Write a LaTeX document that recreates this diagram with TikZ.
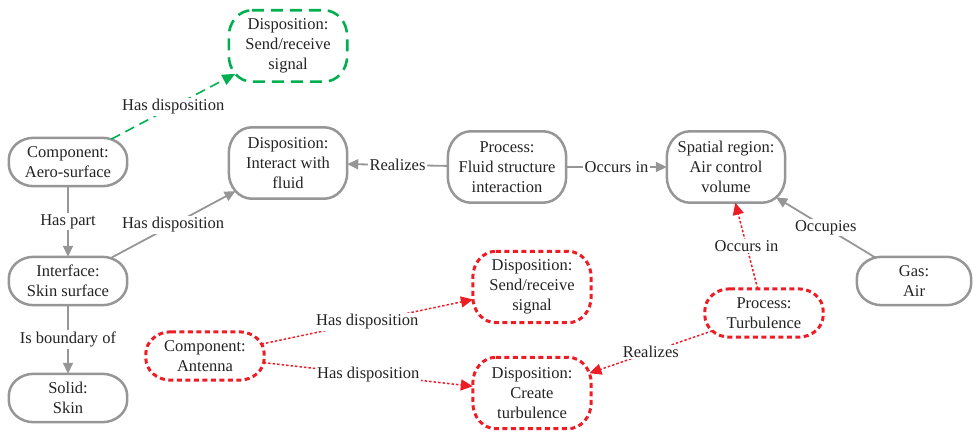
\documentclass[tikz,border=0pt]{standalone}
\usepackage{fontspec}
\setmainfont{Liberation Serif}
\usetikzlibrary{arrows.meta,intersections}
\definecolor{boxgray}{RGB}{150,150,150}
\definecolor{txt}{RGB}{35,35,35}
\definecolor{ogreen}{RGB}{0,176,80}
\definecolor{ored}{RGB}{238,28,37}
\tikzset{
  box/.style={align=center, minimum width=118pt, minimum height=48pt, inner sep=2pt,
    text=txt, font=\fontsize{16.5}{20}\selectfont},
  tall/.style={minimum height=71pt},
  frame/.style={draw=boxgray, line width=2.5pt},
  gframe/.style={draw=ogreen, line width=2.6pt, dash pattern=on 12pt off 7pt},
  rframe/.style={draw=ored, line width=3pt, dash pattern=on 5pt off 3.5pt},
  lbl/.style={fill=white, inner sep=1.5pt, text=txt, font=\fontsize{16.5}{20}\selectfont},
  garrow/.style={draw=boxgray, line width=1.8pt, -{Triangle[length=11pt,width=10pt]}},
  grarrow/.style={draw=ogreen, line width=1.6pt, dash pattern=on 10pt off 6pt, -{Triangle[length=13pt,width=11pt]}},
  rarrow/.style={draw=ored, line width=1.5pt, dash pattern=on 2.5pt off 2pt, -{Triangle[length=12pt,width=11pt]}},
}
% rounded frame round a named node: #1 name, #2 style, #3 x radius, #4 y radius
\newcommand\frm[4]{%
  \draw[#2, name path=f#1]
    ([xshift=#3]#1.north west) -- ([xshift=-#3]#1.north east)
    arc[start angle=90, end angle=0, x radius=#3, y radius=#4]
    -- ([yshift=#4]#1.south east)
    arc[start angle=0, end angle=-90, x radius=#3, y radius=#4]
    -- ([xshift=#3]#1.south west)
    arc[start angle=270, end angle=180, x radius=#3, y radius=#4]
    -- ([yshift=-#4]#1.north west)
    arc[start angle=180, end angle=90, x radius=#3, y radius=#4]
    -- cycle;}
% connector from frame to frame: #1 style, #2 from, #3 to, #4 label
\newcommand\conn[4]{%
  \path[name path=e#2#3] (#2.center) -- (#3.center);
  \path[name intersections={of=f#2 and e#2#3, by={#2#3s}}];
  \path[name intersections={of=f#3 and e#2#3, by={#2#3t}}];
  \draw[#1] (#2#3s) -- node[lbl] {#4} (#2#3t);}
\begin{document}
\begin{tikzpicture}[x=1pt,y=-1pt]
\useasboundingbox (0,0) rectangle (973,433);
% nodes
\node[box,tall] (gsend) at (288,46) {Disposition:\\Send/receive\\signal};
\node[box] (aero) at (68,162) {Component:\\Aero-surface};
\node[box,tall] (interact) at (288,163) {Disposition:\\Interact with\\fluid};
\node[box,tall] (fsi) at (507,167) {Process:\\Fluid structure\\interaction};
\node[box,tall] (spatial) at (726,167) {Spatial region:\\Air control\\volume};
\node[box] (iface) at (68,281) {Interface:\\Skin surface};
\node[box] (solid) at (68,398) {Solid:\\Skin};
\node[box] (antenna) at (205,356) {Component:\\Antenna};
\node[box,tall] (rsend) at (532,287) {Disposition:\\Send/receive\\signal};
\node[box,tall] (create) at (532,393) {Disposition:\\Create\\turbulence};
\node[box] (turb) at (764,313) {Process:\\Turbulence};
\node[box,minimum width=114pt] (gas) at (914,281) {Gas:\\Air};
% frames
\frm{gsend}{gframe}{23pt}{26pt}
\frm{aero}{frame}{25pt}{22pt}
\frm{interact}{frame}{23pt}{26pt}
\frm{fsi}{frame}{23pt}{26pt}
\frm{spatial}{frame}{23pt}{26pt}
\frm{iface}{frame}{25pt}{22pt}
\frm{solid}{frame}{25pt}{22pt}
\frm{antenna}{rframe}{25pt}{22pt}
\frm{rsend}{rframe}{23pt}{26pt}
\frm{create}{rframe}{23pt}{26pt}
\frm{turb}{rframe}{25pt}{22pt}
\frm{gas}{frame}{25pt}{22pt}
% connectors
\conn{grarrow}{aero}{gsend}{Has disposition}
\conn{garrow}{aero}{iface}{Has part}
\conn{garrow}{iface}{interact}{Has disposition}
\conn{garrow}{iface}{solid}{Is boundary of}
\conn{garrow}{fsi}{interact}{Realizes}
\conn{garrow}{fsi}{spatial}{Occurs in}
\conn{garrow}{gas}{spatial}{Occupies}
\conn{rarrow}{turb}{spatial}{Occurs in}
\conn{rarrow}{turb}{create}{Realizes}
\conn{rarrow}{antenna}{rsend}{Has disposition}
\conn{rarrow}{antenna}{create}{Has disposition}
\end{tikzpicture}
\end{document}
